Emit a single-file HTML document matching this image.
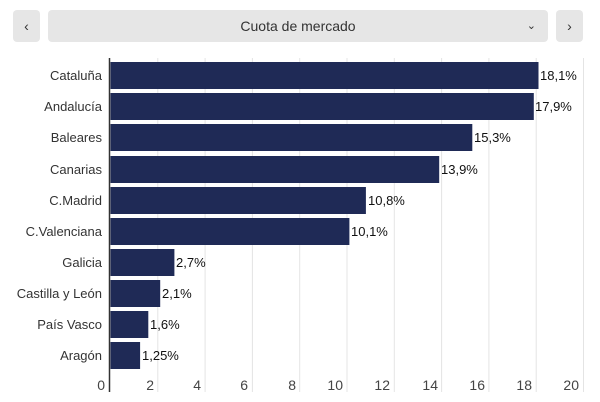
<!DOCTYPE html>
<html><head><style>
body{margin:0;width:600px;height:402px;background:#fff;font-family:"Liberation Sans",sans-serif;position:relative;overflow:hidden}
.b{position:absolute;top:10px;height:32px;background:#e6e6e6;border-radius:4px;color:#333;font-size:14px;line-height:32px;text-align:center}
</style></head><body>
<div class="b" style="left:13px;width:27px">‹</div>
<div class="b" style="left:48px;width:500px">Cuota de mercado<span style="position:absolute;right:12px;font-size:11px">&#8964;</span></div>
<div class="b" style="left:556px;width:27px">›</div>
<svg width="600" height="402" style="position:absolute;left:0;top:0" font-family="Liberation Sans, sans-serif" font-size="13">
<g stroke="#e4e4e4" stroke-width="1">
<line x1="157.8" y1="58" x2="157.8" y2="392"/><line x1="205.1" y1="58" x2="205.1" y2="392"/><line x1="252.4" y1="58" x2="252.4" y2="392"/><line x1="299.7" y1="58" x2="299.7" y2="392"/><line x1="347" y1="58" x2="347" y2="392"/><line x1="394.3" y1="58" x2="394.3" y2="392"/><line x1="441.6" y1="58" x2="441.6" y2="392"/><line x1="488.9" y1="58" x2="488.9" y2="392"/><line x1="536.2" y1="58" x2="536.2" y2="392"/><line x1="583.5" y1="58" x2="583.5" y2="392"/>
</g>
<g fill="#1f2a56">
<rect x="110.5" y="62" width="428" height="27"/>
<rect x="110.5" y="93" width="423.3" height="27"/>
<rect x="110.5" y="124" width="361.8" height="27"/>
<rect x="110.5" y="156" width="328.7" height="27"/>
<rect x="110.5" y="187" width="255.4" height="27"/>
<rect x="110.5" y="218" width="238.9" height="27"/>
<rect x="110.5" y="249" width="63.9" height="27"/>
<rect x="110.5" y="280" width="49.7" height="27"/>
<rect x="110.5" y="311" width="37.8" height="27"/>
<rect x="110.5" y="342" width="29.6" height="27"/>
</g>
<line x1="109.5" y1="58" x2="109.5" y2="392" stroke="#333" stroke-width="1.5"/>
<g fill="#333" text-anchor="end">
<text x="102" y="80">Cataluña</text><text x="102" y="111">Andalucía</text><text x="102" y="142">Baleares</text><text x="102" y="174">Canarias</text><text x="102" y="205">C.Madrid</text><text x="102" y="236">C.Valenciana</text><text x="102" y="267">Galicia</text><text x="102" y="298">Castilla y León</text><text x="102" y="329">País Vasco</text><text x="102" y="360">Aragón</text>
</g>
<g fill="#111">
<text x="540" y="80">18,1%</text><text x="535" y="111">17,9%</text><text x="474" y="142">15,3%</text><text x="441" y="174">13,9%</text><text x="368" y="205">10,8%</text><text x="351" y="236">10,1%</text><text x="176" y="267">2,7%</text><text x="162" y="298">2,1%</text><text x="150" y="329">1,6%</text><text x="142" y="360">1,25%</text>
</g>
<g fill="#444" text-anchor="end" font-size="14">
<text x="105" y="390">0</text><text x="154" y="390">2</text><text x="201" y="390">4</text><text x="248" y="390">6</text><text x="296" y="390">8</text><text x="343" y="390">10</text><text x="390" y="390">12</text><text x="438" y="390">14</text><text x="485" y="390">16</text><text x="532" y="390">18</text><text x="579" y="390">20</text>
</g>
</svg>
</body></html>
